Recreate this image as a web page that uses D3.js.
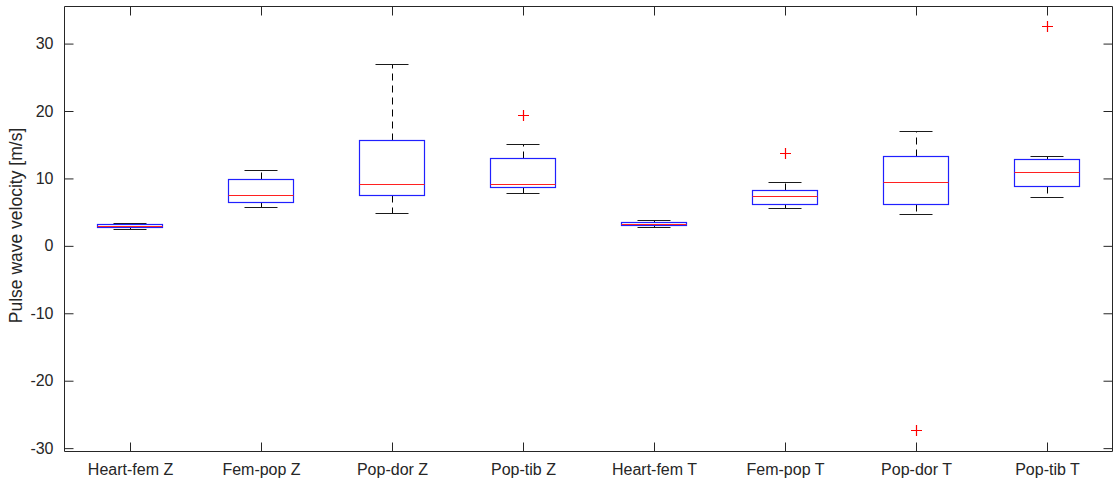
<!DOCTYPE html>
<html><head><meta charset="utf-8">
<script src="https://cdn.jsdelivr.net/npm/d3@7/dist/d3.min.js"></script>
<style>
html,body{margin:0;padding:0;background:#fff;}
svg{display:block;}
text{font-family:"Liberation Sans",Arial,Helvetica,sans-serif;}
</style></head>
<body>
<svg id="chart" width="1120" height="480"></svg>
<script>
const categories = ["Heart-fem Z","Fem-pop Z","Pop-dor Z","Pop-tib Z","Heart-fem T","Fem-pop T","Pop-dor T","Pop-tib T"];
const whiskerLow  = [2.45, 5.67, 4.83, 7.78, 2.66, 5.51, 4.68, 7.14];
const q1          = [2.75, 6.46, 7.49, 8.72, 3.00, 6.06, 6.16, 8.87];
const medians     = [2.90, 7.40, 9.12, 9.16, 3.20, 7.39, 9.41, 10.94];
const q3          = [3.15, 9.87, 15.56, 12.96, 3.40, 8.28, 13.26, 12.80];
const whiskerHigh = [3.30, 11.15, 26.90, 14.97, 3.69, 9.36, 17.00, 13.30];
const outliers    = [[], [], [], [19.36], [], [13.7], [-27.4], [32.5]];
const yTicks = [-30, -20, -10, 0, 10, 20, 30];
const yLabel = "Pulse wave velocity [m/s]";

(function () {
const svg = d3.select("#chart");
const L = 64, R = 1112, T = 6, B = 451;
const axisColor = "#262626";
const x = d3.scaleLinear().domain([0.5, categories.length + 0.5]).range([L, R]);
const y = d3.scaleLinear().domain([-30.5, 35.5]).range([B, T]);
const snap = v => Math.round(v) + 0.5;
const pos = categories.map((c, i) => i + 1);
const boxHalf = 0.25, capHalf = 0.125;

const g = svg.append("g");

const tickLen = 9;
const axBottom = g.append("g").attr("transform", `translate(0.5,${B + 0.5})`)
  .call(d3.axisBottom(x).tickValues(pos).tickFormat((d) => categories[d - 1]).tickSizeInner(-tickLen).tickSizeOuter(0).tickPadding(12));
const axTop = g.append("g").attr("transform", `translate(0.5,${T + 0.5})`)
  .call(d3.axisTop(x).tickValues(pos).tickFormat("").tickSizeInner(-tickLen).tickSizeOuter(0));
const axLeft = g.append("g").attr("transform", `translate(${L + 0.5},0.5)`)
  .call(d3.axisLeft(y).tickValues(yTicks).tickFormat(d => String(d)).tickSizeInner(-tickLen).tickSizeOuter(0).tickPadding(11));
const axRight = g.append("g").attr("transform", `translate(${R + 0.5},0.5)`)
  .call(d3.axisRight(y).tickValues(yTicks).tickFormat("").tickSizeInner(-tickLen).tickSizeOuter(0));
[axBottom, axTop, axLeft, axRight].forEach(a => {
  a.selectAll("path.domain").attr("stroke", axisColor).attr("stroke-width", 1);
  a.selectAll(".tick line").attr("stroke", axisColor).attr("stroke-width", 1);
  a.selectAll("text").attr("fill", axisColor).style("font-size", "16px")
    .style("font-family", '"Liberation Sans", Arial, sans-serif');
});
axLeft.selectAll("path.domain").attr("d", `M0,${T}V${B}`);
axRight.selectAll("path.domain").attr("d", `M0,${T}V${B}`);
axTop.selectAll("path.domain").attr("d", `M${L},0H${R}`);
axBottom.selectAll("path.domain").attr("d", `M${L},0H${R}`);

g.append("text")
  .attr("transform", `translate(22,${(T + B) / 2 - 3}) rotate(-90)`)
  .attr("text-anchor", "middle")
  .attr("fill", axisColor)
  .style("font-size", "17.5px")
  .text(yLabel);

const boxes = g.append("g");
pos.forEach((p, i) => {
  const bg = boxes.append("g");
  const cx = snap(x(p));
  bg.append("line").attr("x1", cx).attr("x2", cx).attr("y1", snap(y(q3[i]))).attr("y2", snap(y(whiskerHigh[i])))
    .attr("stroke", "#000").attr("stroke-dasharray", "7,5").attr("stroke-width", 1);
  bg.append("line").attr("x1", cx).attr("x2", cx).attr("y1", snap(y(q1[i]))).attr("y2", snap(y(whiskerLow[i])))
    .attr("stroke", "#000").attr("stroke-dasharray", "7,5").attr("stroke-width", 1);
  [whiskerHigh[i], whiskerLow[i]].forEach(v => {
    bg.append("line").attr("x1", snap(x(p - capHalf))).attr("x2", snap(x(p + capHalf))).attr("y1", snap(y(v))).attr("y2", snap(y(v)))
      .attr("stroke", "#1a1a1a").attr("stroke-width", 1);
  });
  const bx0 = snap(x(p - boxHalf)), bx1 = snap(x(p + boxHalf));
  const by0 = snap(y(q3[i])), by1 = snap(y(q1[i]));
  bg.append("rect").attr("x", bx0).attr("width", bx1 - bx0)
    .attr("y", by0).attr("height", by1 - by0)
    .attr("fill", "none").attr("stroke", "#2020ff").attr("stroke-width", 1.2);
  bg.append("line").attr("x1", bx0).attr("x2", bx1).attr("y1", snap(y(medians[i]))).attr("y2", snap(y(medians[i])))
    .attr("stroke", "#ff2020").attr("stroke-width", 1.2);
  outliers[i].forEach(v => {
    const ox = cx, oy = snap(y(v)), s = 5.5;
    bg.append("path").attr("d", `M${ox - s},${oy}H${ox + s}M${ox},${oy - s}V${oy + s}`)
      .attr("stroke", "#ff0000").attr("stroke-width", 1.2).attr("fill", "none");
  });
});
})();
</script>
</body></html>
